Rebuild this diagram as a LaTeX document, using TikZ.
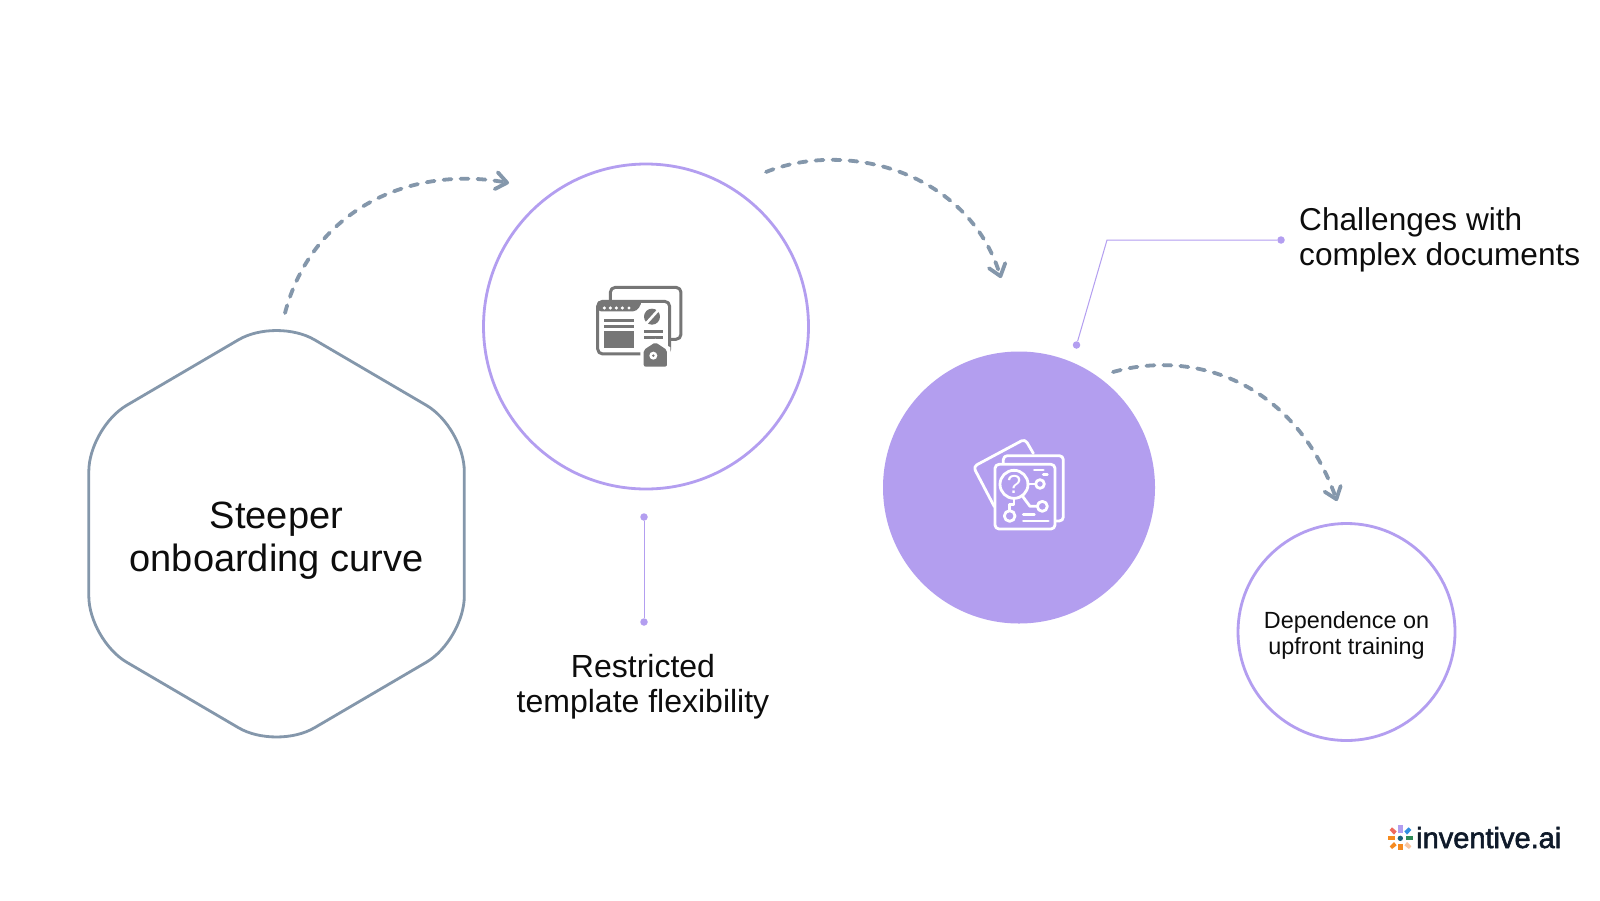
\documentclass[tikz,border=0pt]{standalone}
\usepackage{fontspec}
\setmainfont{Liberation Sans}
\newfontfamily\logofont[FakeBold=2]{Liberation Sans}
\usetikzlibrary{arrows.meta}
\definecolor{slatec}{HTML}{8497AB}
\definecolor{lilac}{HTML}{B39EF0}
\definecolor{lilacfill}{HTML}{B39EEF}
\definecolor{icongray}{HTML}{767676}
\definecolor{logoblue}{HTML}{2F8FE0}
\definecolor{logogreen}{HTML}{2E8B57}
\definecolor{logopeach}{HTML}{F9C6A0}
\definecolor{logoorange}{HTML}{F58A1F}
\definecolor{logored}{HTML}{EF6A5E}
\definecolor{logonavy}{HTML}{1A5F7A}
\definecolor{logotext}{HTML}{0F1A2A}
\tikzset{
 ringnode/.style={circle,draw=lilac,line width=2.8pt,inner sep=0pt,fill=white},
 flowarrow/.style={draw=slatec,line width=3.8pt,line cap=round,dash pattern=on 8pt off 9pt,
   -{Straight Barb[length=11pt,width=17pt,line width=3.8pt,round]}},
 thinline/.style={draw=lilac,line width=1pt},
 dotnode/.style={circle,fill=lilac,inner sep=0pt,minimum size=7.5pt},
 label/.style={align=center,text=black!95,inner sep=0pt},
 gi/.style={draw=icongray,line width=3pt,line join=round},
 wi/.style={draw=white,line width=2.8pt,line join=round,line cap=round},
}
\begin{document}
\begin{tikzpicture}[x=1pt,y=-1pt]
\useasboundingbox (0,0) rectangle (1600,900);
\fill[white] (0,0) rectangle (1600,900);
% hexagon
\draw[draw=slatec,line width=2.8pt,rounded corners=44pt]
 (276.5,317.5) -- (464.3,427.5) -- (464.3,640) -- (276.5,750) -- (88.8,640) -- (88.8,427.5) -- cycle;
\node[label,font=\fontsize{38}{43}\selectfont] (hex) at (276.5,541) {Steeper\\onboarding curve};
% circles
\node[ringnode,minimum size=325pt] (c1) at (646,326.5) {};
\node[circle,fill=lilacfill,inner sep=0pt,minimum size=272pt] (c2) at (1019,487.5) {};
\node[ringnode,minimum size=217pt] (c3) at (1346.5,632) {};
\node[label,font=\fontsize{23.4}{26.5}\selectfont] (c3t) at (1346.5,635.5) {Dependence on\\upfront training};
% flow arrows
\coordinate (a1s) at (285,313); \coordinate (a1e) at (509,183);
\coordinate (a2s) at (766,172); \coordinate (a2e) at (1001,278);
\coordinate (a3s) at (1113,372); \coordinate (a3e) at (1337,501);
\draw[flowarrow] (a1s) .. controls (312,210) and (410,165) .. (a1e);
\draw[flowarrow] (a2s) .. controls (845,140) and (967,170) .. (a2e);
\draw[flowarrow] (a3s) .. controls (1190,350) and (1293,378) .. (a3e);
% callouts
\node[dotnode] (d1) at (644,517) {};
\node[dotnode] (d2) at (644,622) {};
\draw[thinline] (d1) -- (d2);
\node[dotnode] (d3) at (1281,240) {};
\node[dotnode] (d4) at (1076.5,345) {};
\coordinate (elb) at (1107,240);
\draw[thinline] (d3) -- (elb) -- (d4);
\node[label,font=\fontsize{32}{35}\selectfont] (t1) at (643,687) {Restricted\\template flexibility};
\node[label,font=\fontsize{31.6}{35}\selectfont,align=left,anchor=west] (t2) at (1299,240) {Challenges with\\complex documents};
% icon 1
\begin{scope}[shift={(561,260)},x=0.3333pt,y=-0.3333pt]
\draw[gi,rounded corners=5pt] (148,124) -- (148,82) -- (360,82) -- (360,238) -- (326,238);
\draw[gi,rounded corners=5pt,fill=white] (110,124) rectangle (326,282);
\fill[icongray,rounded corners=4pt] (108,154) -- (108,122) -- (245,122) -- (228,154) -- cycle;
\foreach \x in {130,148,166,184,204} \fill[white] (\x,144) circle (5);
\fill[icongray] (128,177) rectangle (218,186);
\fill[icongray] (128,195) rectangle (218,204);
\fill[icongray] (128,214) rectangle (218,264);
\fill[icongray] (273,170) circle (24);
\draw[white,line width=2.6pt] (254,192) -- (294,148);
\fill[icongray] (248,209) rectangle (306,218);
\fill[icongray] (248,228) rectangle (306,237);
\fill[white] (238,296) -- (238,262) -- (283,236) -- (328,262) -- (328,296) -- cycle;
\fill[icongray,rounded corners=2pt] (248,320) -- (248,270) -- (283,247) -- (318,270) -- (318,320) -- cycle;
\fill[white] (277,287) circle (12);
\fill[icongray] (277,287) circle (4);
\end{scope}
% icon 2
\begin{scope}[shift={(935,415)},x=0.3333pt,y=-0.3333pt]
\draw[wi,rounded corners=4pt] (178,275) -- (115,155) -- (270,72) -- (295,115);
\draw[wi,rounded corners=4pt] (205,145) -- (205,122) -- (385,122) -- (385,318) -- (362,318);
\draw[wi,rounded corners=4pt] (180,148) rectangle (360,342);
\draw[wi] (237,208) circle (42);
\node[text=white,font=\fontsize{26}{26}\selectfont,inner sep=0pt] (qm) at (237,208) {?};
\draw[wi] (315,207) circle (13);
\draw[wi] (322,274) circle (15);
\draw[wi] (224,303) circle (16);
\draw[wi] (278,207) -- (302,207);
\draw[wi] (262,243) -- (285,274) -- (307,274);
\draw[wi] (237,250) -- (237,268) -- (224,268) -- (224,287);
\draw[wi] (298,165) -- (325,165);
\draw[wi] (325,178) -- (337,178);
\draw[wi] (265,298) -- (298,298);
\draw[wi] (265,318) -- (340,318);
\end{scope}
% logo
\begin{scope}[shift={(1340,790)},x=0.3333pt,y=-0.3333pt]
\fill[lilac] (174,104) rectangle (189,128);
\fill[logoblue] (193,124) -- (206,112) -- (214,120) -- (201,134) -- cycle;
\fill[logogreen] (198,137) rectangle (220,151);
\fill[logopeach] (193,166) -- (201,156) -- (214,169) -- (207,177) -- cycle;
\fill[logoorange] (174,162) rectangle (189,181);
\fill[logoorange] (170,166) -- (162,156) -- (149,169) -- (156,177) -- cycle;
\fill[logoorange] (145,137) rectangle (165,151);
\fill[logored] (170,124) -- (156,112) -- (149,120) -- (162,134) -- cycle;
\fill[logonavy] (181,145) circle (8);
\end{scope}
\node[anchor=base west,inner sep=0pt,font=\logofont\fontsize{29}{29}\selectfont,text=logotext] (logo) at (1416,848) {inventive.ai};
\end{tikzpicture}
\end{document}
